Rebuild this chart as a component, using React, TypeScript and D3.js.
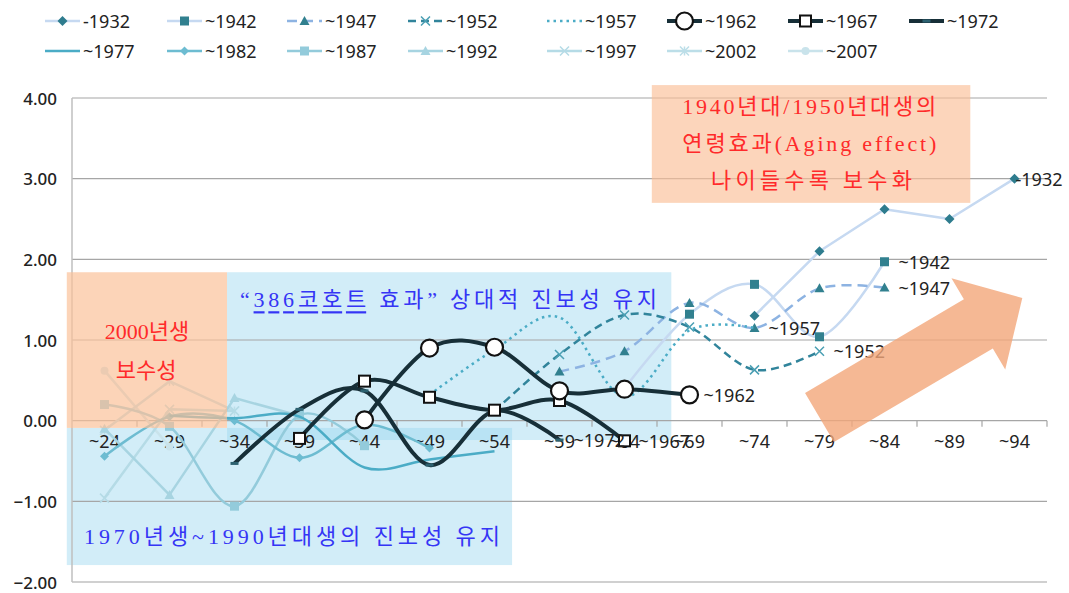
import React from 'react';
import * as d3 from 'd3';

// age groups on the x axis
const categories = ['~24', '~29', '~34', '~39', '~44', '~49', '~54', '~59', '~64', '~69', '~74', '~79', '~84', '~89', '~94'];
const yTicks = [-2, -1, 0, 1, 2, 3, 4];

// cohort values by age group (null = no survey point)
const s1932 = [null, null, null, null, null, null, null, null, null, null, 1.30, 2.10, 2.62, 2.50, 3.00];
const s1942 = [null, null, null, null, null, null, null, null, 0.40, 1.32, 1.69, 1.04, 1.97, null, null];
const s1947 = [null, null, null, null, null, null, null, 0.61, 0.86, 1.46, 1.15, 1.64, 1.65, null, null];
const s1952 = [null, null, null, null, null, null, 0.12, 0.82, 1.31, 1.16, 0.63, 0.86, null, null, null];
const s1957 = [null, null, null, null, null, 0.32, 0.88, 1.28, 0.30, 1.12, 1.15, null, null, null, null];
const s1962 = [null, null, null, null, 0.01, 0.90, 0.91, 0.37, 0.39, 0.32, null, null, null, null, null];
const s1967 = [null, null, null, -0.22, 0.49, 0.29, 0.13, 0.25, -0.25, null, null, null, null, null, null];
const s1972 = [null, null, -0.53, 0.14, 0.37, -0.55, 0.12, -0.24, null, null, null, null, null, null, null];
const s1977 = [null, 0.06, 0.03, 0.05, -0.58, -0.48, -0.38, null, null, null, null, null, null, null, null];
const s1982 = [-0.44, 0.05, 0.00, -0.46, -0.05, -0.34, null, null, null, null, null, null, null, null, null];
const s1987 = [0.20, -0.07, -1.06, 0.07, -0.31, null, null, null, null, null, null, null, null, null, null];
const s1992 = [-0.10, -0.92, 0.28, 0.06, null, null, null, null, null, null, null, null, null, null, null];
const s1997 = [-0.96, 0.14, 0.12, null, null, null, null, null, null, null, null, null, null, null, null];
const s2002 = [-0.12, 0.49, 0.12, null, null, null, null, null, null, null, null, null, null, null, null];
const s2007 = [0.62, -0.32, null, null, null, null, null, null, null, null, null, null, null, null, null];

const labeled = ['-1932', '~1942', '~1947', '~1952', '~1957', '~1962', '~1967', '~1972'];

type Series = {
  name: string; values: (number | null)[]; color: string; width: number; dash?: string;
  smooth: boolean; marker?: string; mcolor?: string; msize?: number; mfill?: string;
};

const series: Series[] = [
  { name: '-1932', values: s1932, color: '#c6d9f1', width: 2.5, smooth: false, marker: 'diamond', mcolor: '#2e7c8e', msize: 5 },
  { name: '~1942', values: s1942, color: '#c6d9f1', width: 2.5, smooth: true, marker: 'square', mcolor: '#31808f', msize: 4.5 },
  { name: '~1947', values: s1947, color: '#8db3e2', width: 2.5, dash: '10,6', smooth: true, marker: 'triangle', mcolor: '#31808f', msize: 5 },
  { name: '~1952', values: s1952, color: '#31849b', width: 2.5, dash: '8,5', smooth: true, marker: 'x', mcolor: '#4a9fb3', msize: 4.5 },
  { name: '~1957', values: s1957, color: '#4bacc6', width: 2.5, dash: '2.5,4', smooth: true },
  { name: '~1962', values: s1962, color: '#172f38', width: 4, smooth: true, marker: 'circle', mcolor: '#111', msize: 8.5, mfill: '#fff' },
  { name: '~1967', values: s1967, color: '#172f38', width: 4, smooth: true, marker: 'square', mcolor: '#111', msize: 5.5, mfill: '#fff' },
  { name: '~1972', values: s1972, color: '#172f38', width: 4, smooth: true, marker: 'dash', mcolor: '#2c6170', msize: 4 },
  { name: '~1977', values: s1977, color: '#4bacc6', width: 2.5, smooth: true },
  { name: '~1982', values: s1982, color: '#6dbcd1', width: 2.5, smooth: true, marker: 'diamond', mcolor: '#6dbcd1', msize: 4.5 },
  { name: '~1987', values: s1987, color: '#93cbdb', width: 2.5, smooth: true, marker: 'square', mcolor: '#93cbdb', msize: 4.5 },
  { name: '~1992', values: s1992, color: '#a7d4e1', width: 2.5, smooth: false, marker: 'triangle', mcolor: '#a7d4e1', msize: 5 },
  { name: '~1997', values: s1997, color: '#b5dbe6', width: 2.5, smooth: false, marker: 'x', mcolor: '#b5dbe6', msize: 4.5 },
  { name: '~2002', values: s2002, color: '#bcdee8', width: 2.5, smooth: false, marker: 'asterisk', mcolor: '#bcdee8', msize: 4.5 },
  { name: '~2007', values: s2007, color: '#c9e3eb', width: 2.5, smooth: false, marker: 'circle', mcolor: '#c9e3eb', msize: 4, mfill: '#c9e3eb' },
];

// drawing order: young cohorts below, 1960s cohorts on top
const drawOrder = ['~2007', '~2002', '~1997', '~1992', '~1987', '~1982', '~1977', '-1932', '~1942', '~1947', '~1952', '~1957', '~1972', '~1967', '~1962'];

const legendCols = [45, 167, 287, 408, 547, 667, 788, 909];

const W = 1069;
const H = 593;
const x = d3.scaleBand<string>().domain(categories).range([72, 1047]);
const y = d3.scaleLinear().domain([-2, 4]).range([582, 98]);
// category-index scale for annotation placement
const xi = d3.scaleLinear().domain([-0.5, 14.5]).range([72, 1047]);
const cx = (i: number) => (x(categories[i]) as number) + x.bandwidth() / 2;

const labelFont = "'Noto Sans', 'Liberation Sans', sans-serif";
const noteFont = "'Liberation Serif', 'DejaVu Serif', 'Noto Sans CJK KR', serif";

function Marker({ s, px, py }: { s: Series; px: number; py: number }) {
  const r = s.msize || 4;
  const c = s.mcolor;
  if (s.marker === 'diamond') return <path d={`M${px},${py - r}L${px + r},${py}L${px},${py + r}L${px - r},${py}Z`} fill={c} />;
  if (s.marker === 'square') return <rect x={px - r} y={py - r} width={2 * r} height={2 * r} fill={s.mfill || c} stroke={s.mfill ? c : 'none'} strokeWidth={2} />;
  if (s.marker === 'triangle') return <path d={`M${px},${py - r}L${px + r},${py + r * 0.8}L${px - r},${py + r * 0.8}Z`} fill={c} />;
  if (s.marker === 'x') return <path d={`M${px - r},${py - r}L${px + r},${py + r}M${px - r},${py + r}L${px + r},${py - r}`} stroke={c} strokeWidth={1.5} fill="none" />;
  if (s.marker === 'asterisk') return <path d={`M${px - r},${py - r}L${px + r},${py + r}M${px - r},${py + r}L${px + r},${py - r}M${px},${py - r}L${px},${py + r}`} stroke={c} strokeWidth={1.5} fill="none" />;
  if (s.marker === 'circle') return <circle cx={px} cy={py} r={r} fill={s.mfill || c} stroke={c} strokeWidth={s.mfill === '#fff' ? 2.2 : 0} />;
  if (s.marker === 'dash') return <rect x={px - r} y={py - 1.5} width={2 * r} height={3} fill={c} />;
  return null;
}

function Arrow() {
  // from base centre to tip, in category/value units
  const b = [xi(11.0), y(0.04)];
  const t = [xi(14.12), y(1.52)];
  const dx = t[0] - b[0], dy = t[1] - b[1];
  const len = Math.sqrt(dx * dx + dy * dy);
  const u = [dx / len, dy / len];
  const n = [-u[1], u[0]];
  const shaft = 28.5, head = 53, headLen = 51;
  const hb = [t[0] - u[0] * headLen, t[1] - u[1] * headLen];
  const pts = [
    [b[0] + n[0] * shaft, b[1] + n[1] * shaft],
    [hb[0] + n[0] * shaft, hb[1] + n[1] * shaft],
    [hb[0] + n[0] * head, hb[1] + n[1] * head],
    t,
    [hb[0] - n[0] * head, hb[1] - n[1] * head],
    [hb[0] - n[0] * shaft, hb[1] - n[1] * shaft],
    [b[0] - n[0] * shaft, b[1] - n[1] * shaft],
  ];
  return <polygon points={pts.map(p => p.join(',')).join(' ')} fill="#f2a679" opacity={0.8} />;
}

function Box({ x0, x1, v0, v1, fill, op }: { x0: number; x1: number; v0: number; v1: number; fill: string; op: number }) {
  return <rect x={xi(x0)} y={y(v1)} width={xi(x1) - xi(x0)} height={y(v0) - y(v1)} fill={fill} opacity={op} />;
}

export default function App() {
  const byName = new Map(series.map(s => [s.name, s]));

  return (
    <svg width={W} height={H} style={{ position: 'absolute', left: 0, top: 0, background: '#fff' }}>
      {/* legend */}
      {series.map((s, i) => {
        const row = i < 8 ? 0 : 1;
        const lx = legendCols[i % 8];
        const ly = row === 0 ? 21 : 51;
        return (
          <g key={'lg' + s.name}>
            <line x1={lx} x2={lx + 35} y1={ly} y2={ly} stroke={s.color} strokeWidth={s.width} strokeDasharray={s.dash} />
            <Marker s={s} px={lx + 17.5} py={ly} />
            <text x={lx + 38} y={ly} dominantBaseline="central" fontFamily={labelFont} fontSize={18} fill="#222">{s.name}</text>
          </g>
        );
      })}

      {/* blue notes sit under the lines */}
      <Box x0={1.885} x1={8.72} v0={-0.24} v1={1.84} fill="#9bd8f0" op={0.45} />
      <Box x0={-0.58} x1={6.27} v0={-1.79} v1={-0.09} fill="#9bd8f0" op={0.45} />

      {/* grid */}
      {yTicks.map(t => (
        <g key={'g' + t}>
          <line x1={72} x2={1047} y1={y(t)} y2={y(t)} stroke={t === -2 ? '#d0d0d0' : '#a6a6a6'} strokeWidth={t === -2 ? 2 : 1.2} />
          <text x={57} y={y(t)} textAnchor="end" dominantBaseline="central" fontFamily={labelFont} fontSize={17} fontWeight={500} fill="#222">{d3.format('.2f')(t)}</text>
        </g>
      ))}
      <line x1={72} x2={72} y1={y(4)} y2={y(-2)} stroke="#bfbfbf" strokeWidth={1.5} />
      {categories.map((c, i) => (
        <g key={'c' + c}>
          <line x1={(x(c) as number) + x.bandwidth()} x2={(x(c) as number) + x.bandwidth()} y1={y(0)} y2={y(0) + 6} stroke="#a6a6a6" strokeWidth={1.2} />
          <text x={cx(i)} y={y(0) + 20} textAnchor="middle" dominantBaseline="central" fontFamily={labelFont} fontSize={18} fill="#222">{c}</text>
        </g>
      ))}

      {/* series */}
      {drawOrder.map(name => {
        const s = byName.get(name) as Series;
        const pts = s.values.map((v, i) => [i, v] as [number, number | null]).filter(d => d[1] != null) as [number, number][];
        const line = d3.line<[number, number]>()
          .x(d => cx(d[0]))
          .y(d => y(d[1]))
          .curve(s.smooth ? d3.curveCardinal.tension(0) : d3.curveLinear);
        return (
          <g key={'s' + name}>
            <path d={line(pts) || ''} fill="none" stroke={s.color} strokeWidth={s.width} strokeDasharray={s.dash} strokeLinejoin="round" />
            {pts.map(d => <Marker key={d[0]} s={s} px={cx(d[0])} py={y(d[1])} />)}
          </g>
        );
      })}

      {/* end labels */}
      {labeled.map(name => {
        const s = byName.get(name) as Series;
        let last = s.values.length - 1;
        while (s.values[last] == null) last--;
        const off = name === '-1932' ? 1 : 14;
        return (
          <text key={'lb' + name} x={cx(last) + off} y={y(s.values[last] as number)} dominantBaseline="central" fontFamily={labelFont} fontSize={18} fill="#222">{name}</text>
        );
      })}

      {/* orange notes lie over the lines */}
      <Box x0={-0.58} x1={1.885} v0={-0.09} v1={1.84} fill="#fbbf96" op={0.68} />
      <Box x0={8.42} x1={13.32} v0={2.70} v1={4.16} fill="#fbbf96" op={0.65} />

      <g fontFamily={noteFont} fontSize={22}>
        <text x={xi(0.654)} y={y(1.10)} textAnchor="middle" dominantBaseline="central" fill="#ff2a2a">2000년생</text>
        <text x={xi(0.64)} y={y(0.62)} textAnchor="middle" dominantBaseline="central" fill="#ff2a2a">보수성</text>
        <text x={xi(2.085)} y={y(1.505)} dominantBaseline="central" fill="#3535f5" textLength={417} lengthAdjust="spacing">
          “<tspan style={{ textDecoration: 'underline' }}>386코호트</tspan> 효과” 상대적 진보성 유지
        </text>
        <text x={xi(-0.315)} y={y(-1.43)} dominantBaseline="central" fill="#3535f5" textLength={416} lengthAdjust="spacing">1970년생~1990년대생의 진보성 유지</text>
        <text x={xi(8.89)} y={y(3.89)} dominantBaseline="central" fill="#ff2a2a" textLength={254} lengthAdjust="spacing">1940년대/1950년대생의</text>
        <text x={xi(8.89)} y={y(3.43)} dominantBaseline="central" fill="#ff2a2a" textLength={254} lengthAdjust="spacing">연령효과(Aging effect)</text>
        <text x={xi(9.33)} y={y(2.98)} dominantBaseline="central" fill="#ff2a2a" textLength={201} lengthAdjust="spacing">나이들수록 보수화</text>
      </g>

      <Arrow />
    </svg>
  );
}
